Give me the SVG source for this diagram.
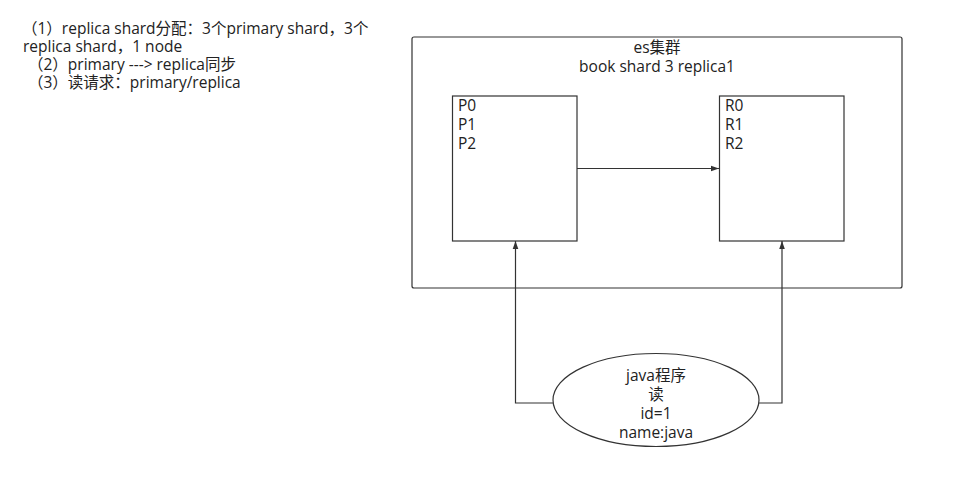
<svg xmlns="http://www.w3.org/2000/svg" width="954" height="484" viewBox="0 0 954 484">
<style>
text{font-family:"Open Sans","Noto Sans CJK SC",sans-serif;font-size:15.5px;fill:#222}
.s{fill:#fff;stroke:#333;stroke-width:1.2}
.c{fill:none;stroke:#333;stroke-width:1.2}
.m{text-anchor:middle}
</style>
<defs>
<marker id="a" viewBox="0 0 10 10" refX="10" refY="5" markerWidth="8" markerHeight="8" markerUnits="userSpaceOnUse" orient="auto">
<path d="M0,1.5 L10,5 L0,8.5 Z" fill="#333"/>
</marker>
</defs>
<rect width="954" height="484" fill="#fff"/>
<g id="notes">
<text x="22" y="34">（1）replica shard分配：3个primary shard，3个</text>
<text x="23" y="52">replica shard，1 node</text>
<text x="28" y="70">（2）primary ---&gt; replica同步</text>
<text x="28" y="88">（3）读请求：primary/replica</text>
</g>
<g id="cluster">
<rect class="s" x="412" y="37" width="490" height="251" rx="2"/>
<text class="m" x="657" y="53">es集群</text>
<text class="m" x="657" y="72">book shard 3 replica1</text>
</g>
<g id="primary">
<rect class="s" x="452.5" y="96" width="124.5" height="145"/>
<text x="458" y="111">P0</text>
<text x="458" y="130">P1</text>
<text x="458" y="149">P2</text>
</g>
<g id="replica">
<rect class="s" x="719.5" y="96" width="124.5" height="145"/>
<text x="725" y="111">R0</text>
<text x="725" y="130">R1</text>
<text x="725" y="149">R2</text>
</g>
<g id="client">
<ellipse class="s" cx="656" cy="400" rx="103" ry="46.5"/>
<text class="m" x="656" y="381">java程序</text>
<text class="m" x="656" y="400">读</text>
<text class="m" x="656" y="419">id=1</text>
<text class="m" x="656" y="438">name:java</text>
</g>
<g id="connectors">
<path class="c" d="M577,168.5 H719" marker-end="url(#a)"/>
<path class="c" d="M553,403 H515.5 V241" marker-end="url(#a)"/>
<path class="c" d="M759,403 H782 V241" marker-end="url(#a)"/>
</g>
</svg>
